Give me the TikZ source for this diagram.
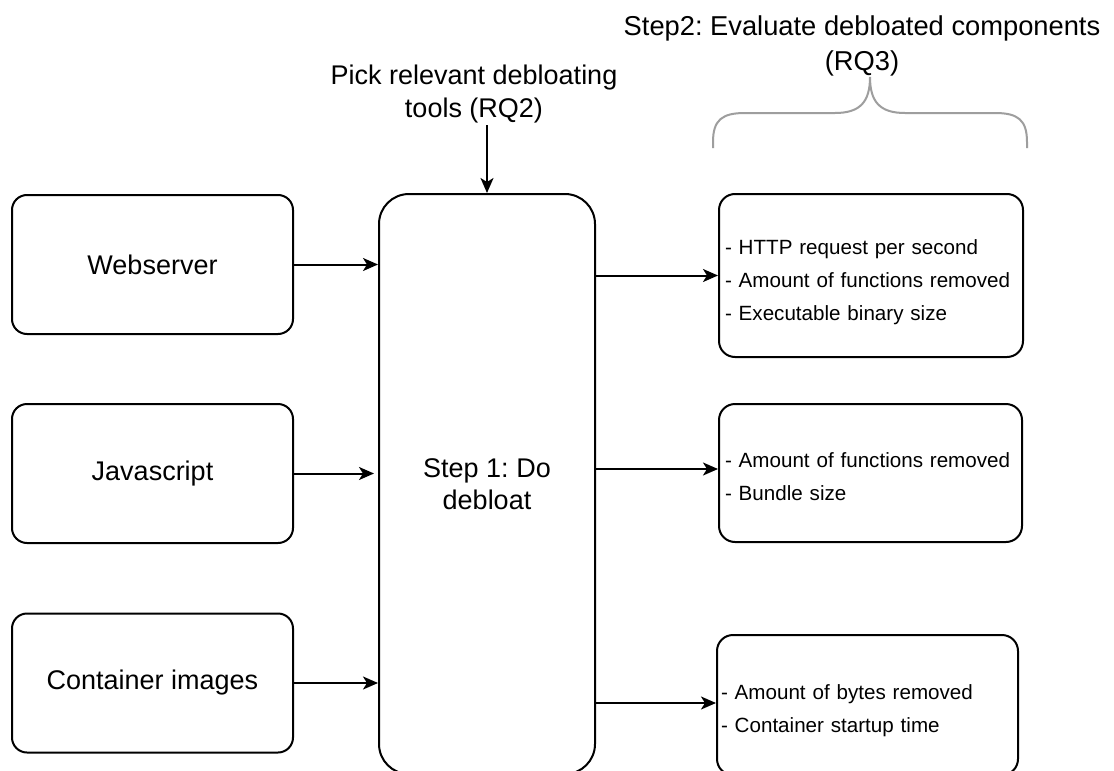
\documentclass[tikz,border=0pt]{standalone}
\usepackage{fontspec}
\setmainfont{Liberation Sans}
\usetikzlibrary{arrows.meta}
\newcommand{\padtop}[1]{\rule{0pt}{#1}}
\frenchspacing
\begin{document}
\begin{tikzpicture}[x=1pt,y=-1pt,
  box/.style={draw=black, line width=2pt, rounded corners=15pt, inner sep=0pt, align=center, font=\fontsize{27}{32}\selectfont},
  lbox/.style={box, minimum width=281pt, minimum height=139pt},
  rbox/.style={draw=black, line width=2pt, rounded corners=16pt, inner xsep=6pt, inner ysep=0pt, align=left, font=\fontsize{20.6}{33}\selectfont, anchor=west},
  arr/.style={line width=2pt, -{Stealth[length=15pt,width=13pt,inset=4pt]}},
  lbl/.style={align=center, font=\fontsize{27}{33}\selectfont, inner sep=0pt},
  bracestyle/.style={draw=black!38, line width=2pt}]
\useasboundingbox (0,0) rectangle (1114,771);
\clip (0,0) rectangle (1114,771);
\fill[white] (0,0) rectangle (1114,771);

% left inputs
\node[lbox] (ws) at (152.5,264.5) {Webserver};
\node[lbox] (js) at (152.5,473.5) {Javascript};
\node[lbox] (ci) at (152.5,683) {Container images};

% central step
\node[box, rounded corners=30pt, minimum width=216pt, minimum height=580pt] (core) at (487,484) {Step 1: Do\\debloat};

% right outputs
\node[rbox, text width=292pt, minimum height=163pt] (r1) at (718,275.5)
  {\padtop{29pt}- HTTP request per second\\- Amount of functions removed\\- Executable binary size};
\node[rbox, text width=291pt, minimum height=138pt] (r2) at (718,473)
  {\padtop{22pt}- Amount of functions removed\\- Bundle size};
\node[rbox, inner xsep=4pt, text width=293pt, minimum height=140pt] (r3) at (716,705)
  {\padtop{27pt}- Amount of bytes removed\\- Container startup time};

% top label
\node[lbl] (pick) at (474,94.5) {Pick relevant debloating\\tools (RQ2)};
\coordinate (pickend) at (487,125);
\draw[arr] (pickend) -- (core.north);

% step 2 label and brace
\node[lbl, font=\fontsize{27.3}{35}\selectfont] (step2) at (862,46) {Step2: Evaluate debloated components\\(RQ3)};
\coordinate (bl) at (713,148);
\coordinate (bt) at (870,77);
\coordinate (br) at (1027,148);
\draw[bracestyle] (bl) -- (713,142) .. controls (713,120) and (722,113) .. (745,113)
  -- (835,113) .. controls (860,113) and (870,102) .. (bt)
  .. controls (870,102) and (880,113) .. (905,113)
  -- (995,113) .. controls (1018,113) and (1027,120) .. (1027,142) -- (br);

% connectors
\draw[arr] (ws.east) -- (ws.east -| core.west);
\draw[arr, shorten >=4pt] (js.east) -- (js.east -| core.west);
\draw[arr] (ci.east) -- (ci.east -| core.west);
\draw[arr] (core.east |- r1.west) -- (r1.west);
\draw[arr] (core.east |- 0,469) -- (r2.west |- 0,469);
\draw[arr] (core.east |- 0,703) -- (r3.west |- 0,703);
\end{tikzpicture}
\end{document}
